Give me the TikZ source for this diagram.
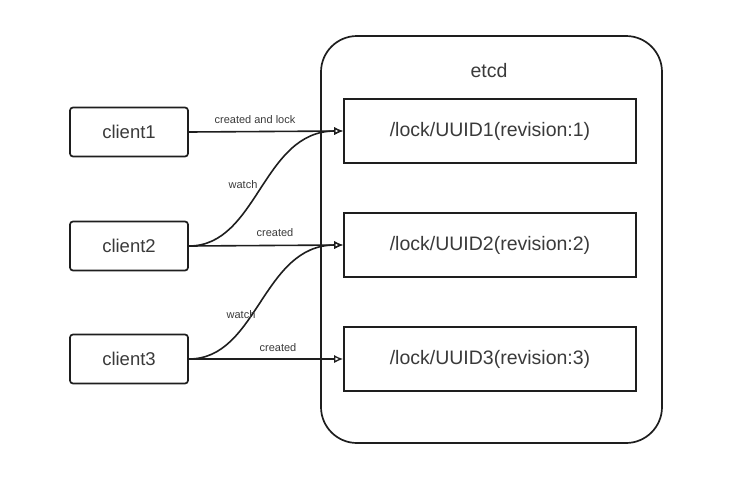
\documentclass[tikz,border=0pt]{standalone}
\usepackage{fontspec}
\setmainfont{Liberation Sans}
\usetikzlibrary{arrows.meta}
\definecolor{ink}{HTML}{1E1E1E}
\definecolor{txt}{HTML}{3A3A3A}
\tikzset{
  sketch/.style={draw=ink, line width=1.7pt},
  clientbox/.style={sketch, rounded corners=3pt, minimum width=118pt, minimum height=49pt, inner sep=0pt, font=\fontsize{18.5}{20}\selectfont, text=txt},
  lockbox/.style={sketch, minimum width=292pt, minimum height=64pt, inner sep=0pt, font=\fontsize{19.5}{21}\selectfont, text=txt},
  conn/.style={draw=ink, line width=1.6pt, -{Latex[open,length=9pt,width=8pt,line width=1.3pt]}},
  lbl/.style={font=\fontsize{11}{12}\selectfont, text=txt, inner sep=1pt}
}
\begin{document}
\begin{tikzpicture}[x=1pt,y=-1pt]
\useasboundingbox (0,0) rectangle (730,480);
% etcd container
\draw[sketch, rounded corners=36pt] (321,36) rectangle (662,443);
\node[font=\fontsize{19.5}{21}\selectfont, text=txt] (etcd) at (489,71) {etcd};
% lock boxes
\node[lockbox] (b1) at (490,131) {/lock/UUID1(revision:1)};
\node[lockbox] (b2) at (490,245) {/lock/UUID2(revision:2)};
\node[lockbox] (b3) at (490,359) {/lock/UUID3(revision:3)};
% clients
\node[clientbox] (c1) at (129,132) {client1};
\node[clientbox] (c2) at (129,246) {client2};
\node[clientbox] (c3) at (129,359) {client3};
% connectors
\draw[conn] (c1.east) -- (b1.west);
\draw[conn] (c2.east) -- (b2.west);
\draw[conn] (c3.east) -- (b3.west);
\draw[conn] (c2.east) .. controls (258,246) and (262,131) .. (b1.west);
\draw[conn] (c3.east) .. controls (258,359) and (262,245) .. (b2.west);
% labels
\node[lbl] (l1) at (255,120) {created and lock};
\node[lbl] (l2) at (243,185) {watch};
\node[lbl] (l3) at (275,233) {created};
\node[lbl] (l4) at (241,315) {watch};
\node[lbl] (l5) at (278,348) {created};
\end{tikzpicture}
\end{document}
